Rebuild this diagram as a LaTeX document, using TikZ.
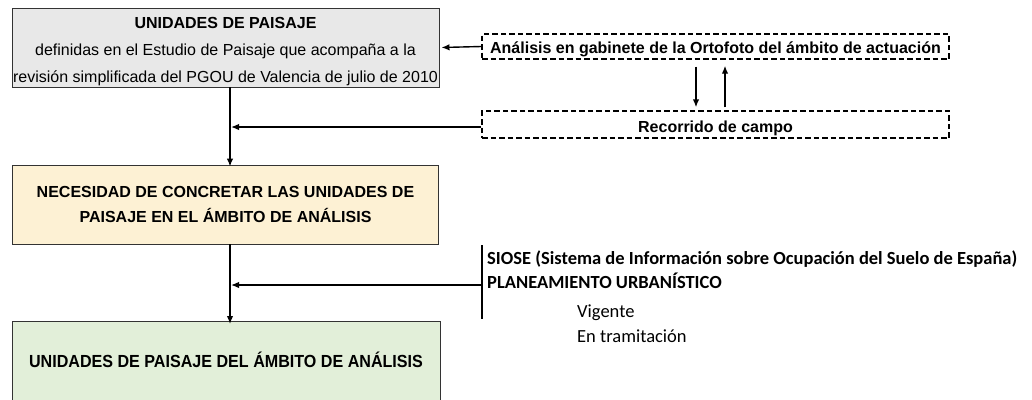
\documentclass[tikz,border=0pt]{standalone}
\usepackage{fontspec}
\setmainfont{Liberation Sans}
\newfontfamily\calibri{Carlito}
\usetikzlibrary{arrows.meta}
\definecolor{boxgray}{HTML}{E8E8E8}
\definecolor{boxyellow}{HTML}{FDF1D4}
\definecolor{boxgreen}{HTML}{E2EFD9}
\tikzset{
  boxline/.style={draw=black!80, line width=0.9pt},
  txt/.style={anchor=base, inner sep=0pt, font=\fontsize{16}{18}\selectfont},
  btxt/.style={anchor=base, inner sep=0pt, font=\bfseries\fontsize{16}{18}\selectfont},
  dashbox/.style={draw, dash pattern=on 5.5pt off 3pt, line width=1.4pt, minimum width=467pt, inner sep=0pt},
  arr/.style={line width=1.4pt, -{Latex[length=8pt,width=6.5pt]}},
  ln/.style={line width=1.4pt},
  src/.style={anchor=base west, inner sep=0pt, font=\calibri\fontsize{18.5}{20}\selectfont},
  bsrc/.style={src, font=\calibri\bfseries\fontsize{18.5}{20}\selectfont}
}
\begin{document}
\begin{tikzpicture}[x=1pt,y=-1pt]
\useasboundingbox[fill=white] (0,0) rectangle (1032,399);
% main boxes
\node[boxline, fill=boxgray, minimum width=427pt, minimum height=79pt, inner sep=0pt] (b1) at (225.5,47.5) {};
\node[btxt] (b1t1) at (225.5,28) {UNIDADES DE PAISAJE};
\node[txt] (b1t2) at (225.5,55) {definidas en el Estudio de Paisaje que acompaña a la};
\node[txt] (b1t3) at (225.5,82) {revisión simplificada del PGOU de Valencia de julio de 2010};
\node[boxline, fill=boxyellow, minimum width=426pt, minimum height=79pt, inner sep=0pt] (b2) at (225,204.5) {};
\node[btxt] (b2t1) at (225.5,197) {NECESIDAD DE CONCRETAR LAS UNIDADES DE};
\node[btxt] (b2t2) at (225.5,222) {PAISAJE EN EL ÁMBITO DE ANÁLISIS};
\draw[boxline, fill=boxgreen] (12,321) rectangle (440,410);
\node[btxt, font=\bfseries\fontsize{17.5}{20}\selectfont] (b3t) at (226,367)
  {\scalebox{0.92}[1]{UNIDADES DE PAISAJE DEL ÁMBITO DE ANÁLISIS}};
\coordinate (b3top) at (230,321);
% dashed boxes
\node[dashbox, minimum height=25pt] (d1) at (715.5,46.5) {};
\node[btxt] (d1t) at (715.5,53) {Análisis en gabinete de la Ortofoto del ámbito de actuación};
\node[dashbox, minimum height=27pt] (d2) at (715.5,124.5) {};
\node[btxt] (d2t) at (715.5,132) {Recorrido de campo};
% arrows between dashed boxes
\coordinate (dn) at (696,0);
\coordinate (up) at (725,0);
\draw[arr] ([yshift=-7pt]d1.south -| dn) -- ([yshift=3pt]d2.north -| dn);
\draw[arr] ([yshift=3pt]d2.north -| up) -- ([yshift=-6pt]d1.south -| up);
% main flow
\coordinate (j1) at (230,127);
\draw[arr] (b1.south -| j1) -- ([yshift=-2pt]b2.north -| j1);
\draw[arr] (d1.west) -- ([xshift=2pt]b1.east);
\draw[arr] (d2.west |- j1) -- ([xshift=1pt]j1);
\coordinate (j2) at (230,285);
\draw[arr] (b2.south -| j2) -- ([yshift=-3pt]b3top);
\coordinate (vt) at (482,245);
\coordinate (vb) at (482,319);
\draw[ln] (vt) -- (vb);
\draw[arr] (vt |- j2) -- ([xshift=1pt]j2);
% sources text
\node[bsrc] (s1) at (487,264) {SIOSE (Sistema de Información sobre Ocupación del Suelo de España)};
\node[bsrc] (s2) at (487,288) {PLANEAMIENTO URBANÍSTICO};
\node[src] (s3) at (577,317) {Vigente};
\node[src] (s4) at (577,342) {En tramitación};
\end{tikzpicture}
\end{document}
